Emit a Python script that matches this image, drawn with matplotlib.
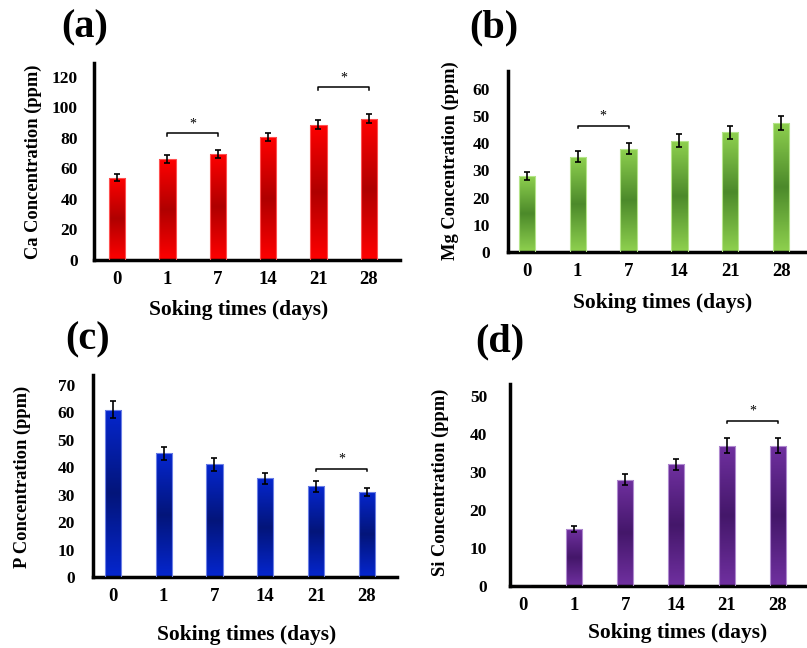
import numpy as np
import matplotlib.pyplot as plt
from matplotlib.colors import LinearSegmentedColormap

plt.rcParams['font.family'] = ['Liberation Serif', 'DejaVu Serif']
plt.rcParams['font.weight'] = 'bold'

days = ['0', '1', '7', '14', '21', '28']

ca = [54, 66, 69.5, 80.5, 88.5, 92.5]
ca_err = [2, 2.5, 2.5, 2.5, 3, 3]
mg = [28, 35, 38, 41, 44, 47.5]
mg_err = [1.5, 2, 2, 2.5, 2.5, 2.5]
p = [61, 45, 41, 36, 33, 31]
p_err = [3, 2.5, 2.5, 2, 2, 1.5]
si = [0, 15, 28, 32, 37, 37]
si_err = [0, 0.7, 1.5, 1.5, 2, 2]

# significance brackets: (first bar, second bar, height)
ca_sig = [(1, 2, 83), (4, 5, 113)]
mg_sig = [(1, 2, 46.5)]
p_sig = [(4, 5, 39.5)]
si_sig = [(4, 5, 43.5)]

W, H = 807, 648
fig = plt.figure(figsize=(W / 100, H / 100), dpi=100)


def px_axes(l, b, r, t):
    return fig.add_axes([l / W, 1 - b / H, (r - l) / W, (b - t) / H])


def panel(ax, vals, errs, sig, edge, dark, rim, ylim, yticks, xlim, ylabel, letter,
          letter_xy, xlab_xy, ylab_xy, ypad=12):
    x = np.arange(len(days))
    cmap = LinearSegmentedColormap.from_list('g', [edge, dark, edge])
    grad = np.linspace(0, 1, 200).reshape(-1, 1)
    bars = ax.bar(x, vals, width=0.32, facecolor='none', edgecolor=rim, lw=0.8, zorder=3)
    for b in bars:
        h = b.get_height()
        if h <= 0:
            continue
        im = ax.imshow(grad, extent=[b.get_x(), b.get_x() + b.get_width(), 0, h],
                       cmap=cmap, aspect='auto', origin='lower', zorder=2)
        im.set_clip_path(b)
    m = np.array(vals) > 0
    ax.errorbar(x[m], np.array(vals)[m], yerr=np.array(errs)[m], fmt='none',
                ecolor='black', elinewidth=1.2, capsize=2.5, capthick=1.2, zorder=4)
    span = ylim[1] - ylim[0]
    for i, j, y in sig:
        d = span * 0.012
        ax.plot([i, i, j, j], [y - d, y, y, y - d], color='black', lw=1.1, zorder=4)
        ax.text((i + j) / 2, y + span * 0.015, '*', ha='center', va='bottom',
                fontsize=10, fontweight='normal')
    ax.set_xlim(*xlim)
    ax.set_ylim(*ylim)
    ax.set_xticks(x)
    ax.set_xticklabels(days, fontsize=13.5)
    ax.set_yticks(yticks)
    ax.tick_params(axis='y', length=0, pad=ypad, labelsize=12.5)
    ax.tick_params(axis='x', length=0, pad=8)
    for s in ['top', 'right']:
        ax.spines[s].set_visible(False)
    for s in ['left', 'bottom']:
        ax.spines[s].set_linewidth(2.5)
    fig.text(letter_xy[0] / W, 1 - letter_xy[1] / H, letter, fontsize=29,
             ha='center', va='center')
    fig.text(xlab_xy[0] / W, 1 - xlab_xy[1] / H, 'Soking times (days)', fontsize=15.5,
             ha='center', va='center')
    fig.text(ylab_xy[0] / W, 1 - ylab_xy[1] / H, ylabel, fontsize=13.3, rotation=90,
             ha='center', va='center')


ax_a = px_axes(94, 260, 400, 63)
panel(ax_a, ca, ca_err, ca_sig, '#ff0000', '#b00000', '#ff5050', (0, 129),
      range(0, 121, 20), (-0.46, 5.62), 'Ca Concentration (ppm)', '(a)',
      (85, 28), (239, 310), (33, 162), ypad=11.5)

ax_b = px_axes(508, 252, 807, 71)
panel(ax_b, mg, mg_err, mg_sig, '#8fd14f', '#4c8a2a', '#b5e58a', (0, 66.6),
      range(0, 61, 10), (-0.37, 5.51), 'Mg Concentration (ppm)', '(b)',
      (494, 28), (663, 303), (450, 161), ypad=13)

ax_c = px_axes(93, 577, 397, 375)
panel(ax_c, p, p_err, p_sig, '#0526cf', '#03157a', '#6d80e6', (0, 73.6),
      range(0, 71, 10), (-0.39, 5.59), 'P Concentration (ppm)', '(c)',
      (88, 340), (247, 635), (22, 477), ypad=13)

ax_d = px_axes(510, 586, 807, 384)
panel(ax_d, si, si_err, si_sig, '#7030a0', '#44176a', '#b08ad0', (0, 53.2),
      range(0, 51, 10), (-0.26, 5.57), 'Si Concentration (ppm)', '(d)',
      (500, 342), (678, 633), (440, 482), ypad=16.5)

fig.savefig('out.png', dpi=100)
